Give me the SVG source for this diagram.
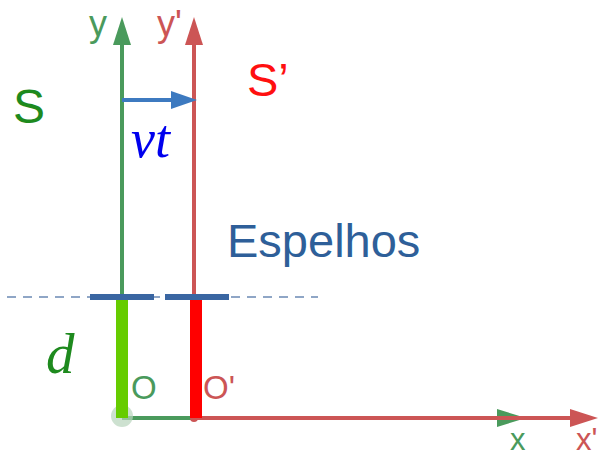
<svg xmlns="http://www.w3.org/2000/svg" width="606" height="457" viewBox="0 0 606 457">
<style>
.sans{font-family:"Liberation Sans",Arial,sans-serif}
.serif{font-family:"Liberation Serif","Times New Roman",serif;font-style:italic}
.g{fill:#4a9a5c}
.r{fill:#cc5555}
</style>
<rect width="606" height="457" fill="#fff"/>
<g id="connectors">
<line x1="7" y1="297" x2="318" y2="297" stroke="#8fa6c6" stroke-width="2" stroke-dasharray="9,7"/>
<line x1="122" y1="418" x2="122" y2="40" stroke="#4a9a5c" stroke-width="4"/>
<polygon points="122,17 113,45 131,45" fill="#4a9a5c"/>
<line x1="194" y1="418" x2="194" y2="40" stroke="#cc5555" stroke-width="4"/>
<polygon points="194,17 185,45 203,45" fill="#cc5555"/>
<line x1="122" y1="100" x2="175" y2="100" stroke="#3d7ac0" stroke-width="4"/>
<polygon points="197,100 171,91 171,109" fill="#3d7ac0"/>
<line x1="122" y1="418" x2="500" y2="418" stroke="#4a9a5c" stroke-width="4"/>
<polygon points="526,418 497,409 497,427" fill="#4a9a5c"/>
<line x1="194" y1="418" x2="575" y2="418" stroke="#cc5555" stroke-width="4"/>
<polygon points="598,418 570,409 570,427" fill="#cc5555"/>
</g>
<g id="origin">
<circle cx="122" cy="416" r="11" fill="#b8d4bc" opacity="0.7"/>
<circle cx="194" cy="418" r="4" fill="#cc5555"/>
</g>
<g id="mirrors">
<rect x="116" y="299" width="12" height="119" fill="#66cc00"/>
<rect x="190" y="299" width="12" height="119" fill="#ff0000"/>
<rect x="90" y="294" width="64" height="6" fill="#3a66a2"/>
<rect x="165" y="294" width="64" height="6" fill="#3a66a2"/>
</g>
<g id="labels">
<text x="89" y="36" class="sans g" font-size="36">y</text>
<text x="157" y="36" class="sans r" font-size="36">y'</text>
<text x="13" y="123" class="sans" font-size="48" fill="#1e8a1e">S</text>
<text x="247" y="96" class="sans" font-size="47" fill="#ff1010">S’</text>
<text x="131" y="157" class="serif" font-size="54" fill="#0000ee">vt</text>
<text x="227" y="257" class="sans" font-size="47" fill="#2e5f99">Espelhos</text>
<text x="46" y="373" class="serif" font-size="57" fill="#1e8a1e">d</text>
<text x="131" y="399" class="sans g" font-size="33">O</text>
<text x="203" y="399" class="sans r" font-size="33">O'</text>
<text x="510" y="450" class="sans g" font-size="31">x</text>
<text x="576" y="450" class="sans r" font-size="31">x'</text>
</g>
</svg>
